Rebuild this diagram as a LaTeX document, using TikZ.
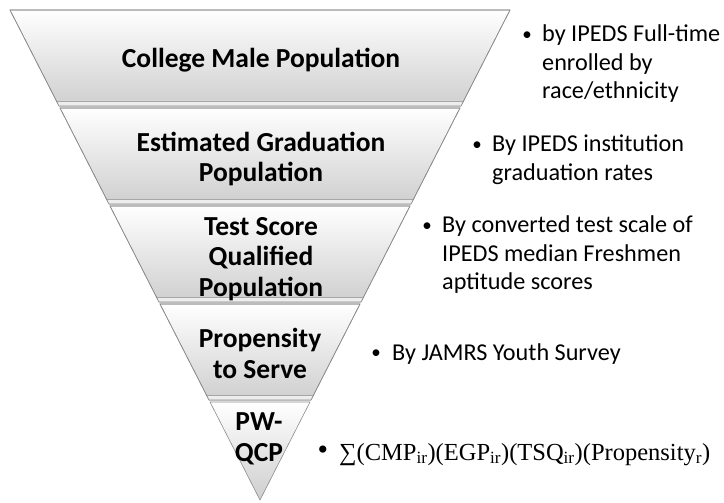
\documentclass[tikz,border=0pt]{standalone}
\usepackage{fontspec}
\setmainfont{Carlito}
\newfontfamily\tnr{Liberation Serif}
\begin{document}
\begin{tikzpicture}[x=1pt,y=-1pt,
  bandshape/.style={top color=white,middle color=black!4,bottom color=black!19,draw=black!45,line width=0.6pt},
  bevel/.style={fill=black!7},
  lbl/.style={anchor=base,inner sep=0pt,font=\fontsize{27.5}{31}\selectfont\bfseries},
  bul/.style={anchor=base west,inner sep=0pt,font=\fontsize{24.2}{28.5}\selectfont},
  dot/.style={anchor=center,inner sep=0pt,font=\fontsize{19}{20}\selectfont},
  fbul/.style={anchor=base west,inner sep=0pt,font=\fontsize{24.5}{28}\selectfont\tnr},
  fdot/.style={anchor=center,inner sep=0pt,font=\fontsize{30}{32}\selectfont\tnr}]
\useasboundingbox (0,0) rectangle (724,503);
\newcommand\bandLx[1]{{10+0.5102*(#1-10)}}
\newcommand\bandRx[1]{{510-0.5102*(#1-10)}}
\newcommand\myband[2]{%
  \path[bandshape] (\bandLx{#1},#1) -- (\bandRx{#1},#1) -- (\bandRx{#2},#2) -- (\bandLx{#2},#2) -- cycle;
  \fill[bevel] (\bandLx{#2-5},#2-5) -- (\bandRx{#2-5},#2-5) -- (\bandRx{#2},#2) -- (\bandLx{#2},#2) -- cycle;
  \draw[black!35,line width=0.5pt] (\bandLx{#2-5},#2-5) -- (\bandRx{#2-5},#2-5);
  \draw[black!45,line width=0.6pt] (\bandLx{#1},#1) -- (\bandRx{#1},#1) -- (\bandRx{#2},#2) -- (\bandLx{#2},#2) -- cycle;}
\myband{10}{106}
\myband{108}{204}
\myband{206}{302}
\myband{304}{400}
% apex band
\path[bandshape] (\bandLx{402},402) -- (\bandRx{402},402) -- (260,500) -- cycle;
% labels
\node[lbl] (l1) at (261,68) {\begin{tabular}[t]{@{}c@{}}College Male Population\end{tabular}};
\node[lbl] (l2) at (261,151) {\begin{tabular}[t]{@{}c@{}}Estimated Graduation\\Population\end{tabular}};
\node[lbl] (l3) at (261,235) {\begin{tabular}[t]{@{}c@{}}Test Score\\Qualified\\Population\end{tabular}};
\node[lbl] (l4) at (260,347) {\begin{tabular}[t]{@{}c@{}}Propensity\\to Serve\end{tabular}};
\node[lbl] (l5) at (259,430) {\begin{tabular}[t]{@{}c@{}}PW-\\QCP\end{tabular}};
% bullets
\node[dot] (d1b) at (527,36) {•};
\node[bul] (d1) at (542,42) {\begin{tabular}[t]{@{}l@{}}by IPEDS Full-time\\enrolled by\\race/ethnicity\end{tabular}};
\node[dot] (d2b) at (477,146) {•};
\node[bul] (d2) at (492,152) {\begin{tabular}[t]{@{}l@{}}By IPEDS institution\\graduation rates\end{tabular}};
\node[dot] (d3b) at (427,227) {•};
\node[bul] (d3) at (442,233) {\begin{tabular}[t]{@{}l@{}}By converted test scale of\\IPEDS median Freshmen\\aptitude scores\end{tabular}};
\node[dot] (d4b) at (376,354) {•};
\node[bul] (d4) at (392,360) {By JAMRS Youth Survey};
\node[fdot] (d5b) at (323,453) {•};
\node[fbul] (d5) at (339,460) {∑(CMP\textsubscript{ir})(EGP\textsubscript{ir})(TSQ\textsubscript{ir})(Propensity\textsubscript{r})};
\end{tikzpicture}
\end{document}
